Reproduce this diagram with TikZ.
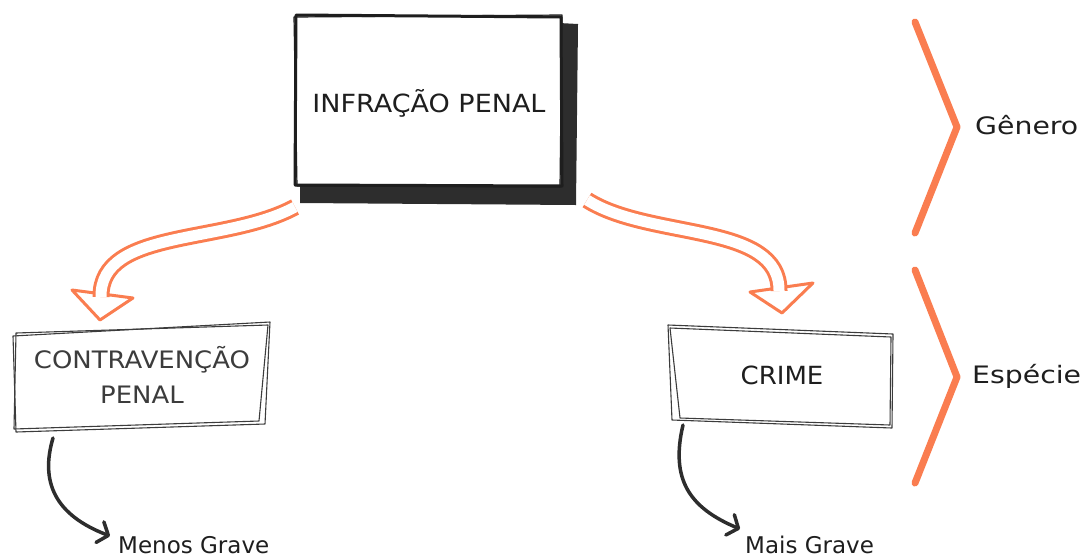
\documentclass[tikz,border=0pt]{standalone}
\usepackage{fontspec}
\setmainfont{DejaVu Sans}
\usetikzlibrary{arrows.meta}
\definecolor{accent}{RGB}{250,125,80}
\definecolor{ink}{RGB}{30,30,30}
\definecolor{shadowgray}{RGB}{45,45,45}
\definecolor{pen}{RGB}{60,60,60}
\tikzset{
  boxlabel/.style={anchor=base, inner sep=0pt, text=ink, font=\fontsize{25}{30}\selectfont},
  sidelabel/.style={anchor=base west, inner sep=0pt, text=ink, font=\fontsize{24}{29}\selectfont},
  notelabel/.style={anchor=base west, inner sep=0pt, text=ink, font=\fontsize{23}{28}\selectfont},
  hollowshaft/.style={draw=accent, line width=3pt, double=white, double distance=11pt, line cap=butt},
  hollowhead/.style={draw=accent, fill=white, line width=3pt, line join=round},
  brace/.style={draw=accent, line width=7pt, line cap=round, line join=round},
  sketch/.style={draw=pen, line width=1.1pt, line join=round},
  blackarrow/.style={draw=shadowgray, line width=3.5pt, line cap=round, -{Straight Barb[length=9pt,width=22pt,round]}},
}
\begin{document}
\begin{tikzpicture}[x=1pt,y=-1pt]
\useasboundingbox (0,0) rectangle (1091,558);

% ---- main box with shadow
\fill[shadowgray] (540,22) -- (578,24) -- (576,205) -- (300,203) -- (300,170) -- cycle;
\draw[ink, line width=3pt, fill=white, line join=round] (296,15) -- (561,17) -- (562,186) -- (295,185) -- cycle;
\draw[ink, line width=1.2pt, line join=round] (294,17) -- (562,15) -- (560,187) -- (297,186) -- cycle;
\node[boxlabel] (inf) at (429,112) {\scalebox{1.08}[1]{INFRAÇÃO PENAL}};

% ---- contravencao box
\draw[sketch, fill=white] (13,336) -- (270,322) -- (265,424) -- (16,432) -- cycle;
\draw[sketch] (16,333) -- (268,325) -- (259,421) -- (14,429) -- cycle;
\node[boxlabel, font=\fontsize{24}{29}\selectfont, text=pen] (contraA) at (142,368) {\scalebox{1.08}[1]{CONTRAVENÇÃO}};
\node[boxlabel, font=\fontsize{24}{29}\selectfont, text=pen] (contraB) at (142,403) {\scalebox{1.08}[1]{PENAL}};

% ---- crime box
\draw[sketch, fill=white] (668,325) -- (893,334) -- (892,428) -- (672,420) -- cycle;
\draw[sketch] (670,328) -- (891,337) -- (890,425) -- (680,418) -- cycle;
\node[boxlabel] (crime) at (782,384) {\scalebox{1.04}[1]{CRIME}};

% ---- orange hollow arrows
\coordinate (lstart) at (295,207);
\coordinate (lend) at (101,297);
\coordinate (rstart) at (587,200);
\coordinate (rend) at (779,291);
\draw[hollowhead] (72,290) -- (133,298) -- (100,320) -- cycle;
\draw[hollowshaft] (lstart) .. controls (225,245) and (100,228) .. (lend);
\draw[hollowhead] (750,292) -- (813,283) -- (782,313) -- cycle;
\draw[hollowshaft] (rstart) .. controls (650,240) and (780,222) .. (rend);

% ---- black arrows and notes
\node[notelabel] (menos) at (118,553) {Menos Grave};
\node[notelabel] (mais) at (745,553) {Mais Grave};
\coordinate (cbot) at (53,438);
\coordinate (kbot) at (683,425);
\draw[blackarrow] (cbot) .. controls (40,482) and (55,515) .. (110,536);
\draw[blackarrow] (kbot) .. controls (670,480) and (690,508) .. (740,529);

% ---- right braces
\draw[brace] (915,22) -- (957,127) -- (915,233);
\draw[brace] (915,270) -- (957,377) -- (915,483);
\node[sidelabel] (genero) at (975,134) {\scalebox{1.18}[1]{Gênero}};
\node[sidelabel] (especie) at (972,383) {\scalebox{1.18}[1]{Espécie}};
\end{tikzpicture}
\end{document}
